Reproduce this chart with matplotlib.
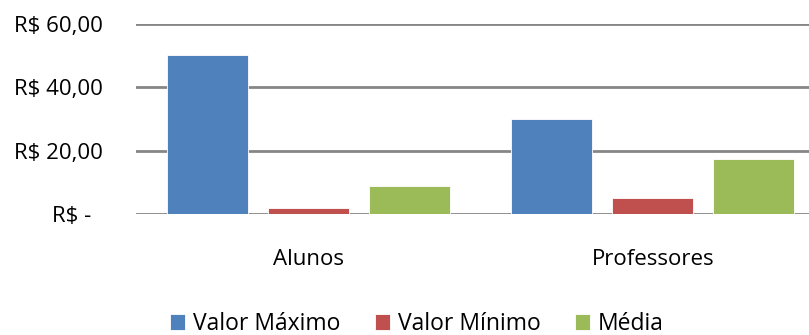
import matplotlib.pyplot as plt
import numpy as np

# valores (R$)
categorias = ['Alunos', 'Professores']
series = ['Valor Máximo', 'Valor Mínimo', 'Média']
valor_maximo = [50, 30]
valor_minimo = [2, 5]
media = [9, 17.4]
cores = ['#4F81BD', '#C0504D', '#9BBB59']

yticks = [0, 20, 40, 60]
ytick_labels = ['R$ -  ', 'R$ 20,00', 'R$ 40,00', 'R$ 60,00']

plt.rcParams['font.family'] = ['Open Sans', 'DejaVu Sans']

fig = plt.figure(figsize=(8.09, 3.35), dpi=100)
# plot area runs a bit past the right edge, like the original
ax = fig.add_axes([136 / 809, 120.7 / 335, 689 / 809, 190.6 / 335])

x = np.arange(len(categorias))
largura = 0.235
passo = 0.293
for i, (nome, vals) in enumerate(zip(series, [valor_maximo, valor_minimo, media])):
    ax.bar(x + (i - 1) * passo, vals, largura, color=cores[i], label=nome,
           edgecolor='white', linewidth=0.6, zorder=3)

ax.set_xlim(-0.5, 1.5)
ax.set_ylim(0, 60)
ax.set_yticks(yticks)
ax.set_yticklabels(ytick_labels)
ax.grid(axis='y', color='#868686', linewidth=2, zorder=0)
ax.set_xticks(x)
ax.set_xticklabels(categorias)
ax.tick_params(axis='both', length=0, labelsize=16, colors='black')
ax.tick_params(axis='y', pad=24)
ax.tick_params(axis='x', pad=25)
for s in ax.spines.values():
    s.set_visible(False)

fig.legend(loc='center', bbox_to_anchor=(417 / 809, 1 - 324 / 335), ncol=3,
           frameon=False, fontsize=16.5, handlelength=0.65, handleheight=0.65,
           handletextpad=0.35, columnspacing=1.5, borderaxespad=0)

plt.savefig('out.png', dpi=100)
